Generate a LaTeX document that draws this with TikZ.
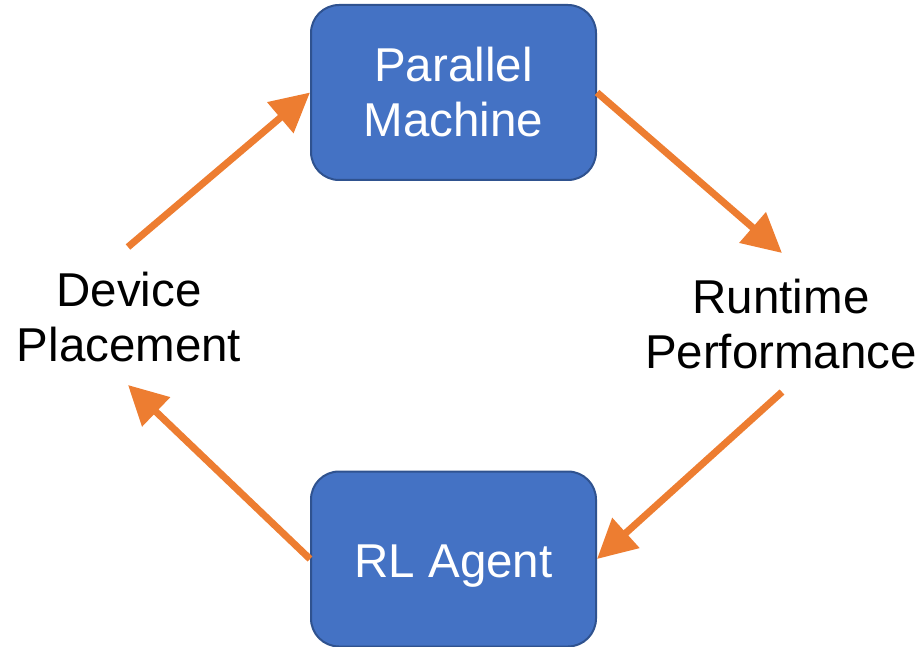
\documentclass[tikz,border=0pt]{standalone}
\usepackage{fontspec}
\setmainfont{Liberation Sans}
\usetikzlibrary{arrows.meta}
\definecolor{boxfill}{HTML}{4472C4}
\definecolor{boxline}{HTML}{2F528F}
\definecolor{flow}{HTML}{ED7D31}
\begin{document}
\begin{tikzpicture}[x=1pt,y=-1pt,
  stage/.style={draw=boxline, line width=2pt, fill=boxfill, rounded corners=28pt,
    minimum width=285pt, minimum height=175pt, inner sep=0pt, align=center,
    text=white, font=\fontsize{47.5}{55}\selectfont},
  caption/.style={align=center, inner sep=0pt, text=black, font=\fontsize{47.5}{55}\selectfont},
  flowarrow/.style={draw=flow, line width=7pt, -{Triangle[length=39pt,width=39pt]}}]
  \useasboundingbox (0,0) rectangle (922,647);

  % the two stages of the loop
  \node[stage] (pm) at (453.5,92.5) {Parallel\\Machine};
  \node[stage, text depth=0pt] (rl) at (453.5,559) {\raisebox{-4pt}{RL Agent}};

  % the two quantities passed between them
  \node[caption] (dp) at (129,317.5) {Device\\Placement};
  \node[caption] (rp) at (781,324.5) {Runtime\\Performance};

  % free ends of the connectors next to the captions
  \coordinate (dpout) at (128,247);
  \coordinate (dpin)  at (128,385);
  \coordinate (rpin)  at (782,253);
  \coordinate (rpout) at (782,392);

  \draw[flowarrow] (dpout) -- (pm.west);
  \draw[flowarrow] (pm.east) -- (rpin);
  \draw[flowarrow] (rpout) -- (rl.east);
  \draw[flowarrow] (rl.west) -- (dpin);
\end{tikzpicture}
\end{document}
